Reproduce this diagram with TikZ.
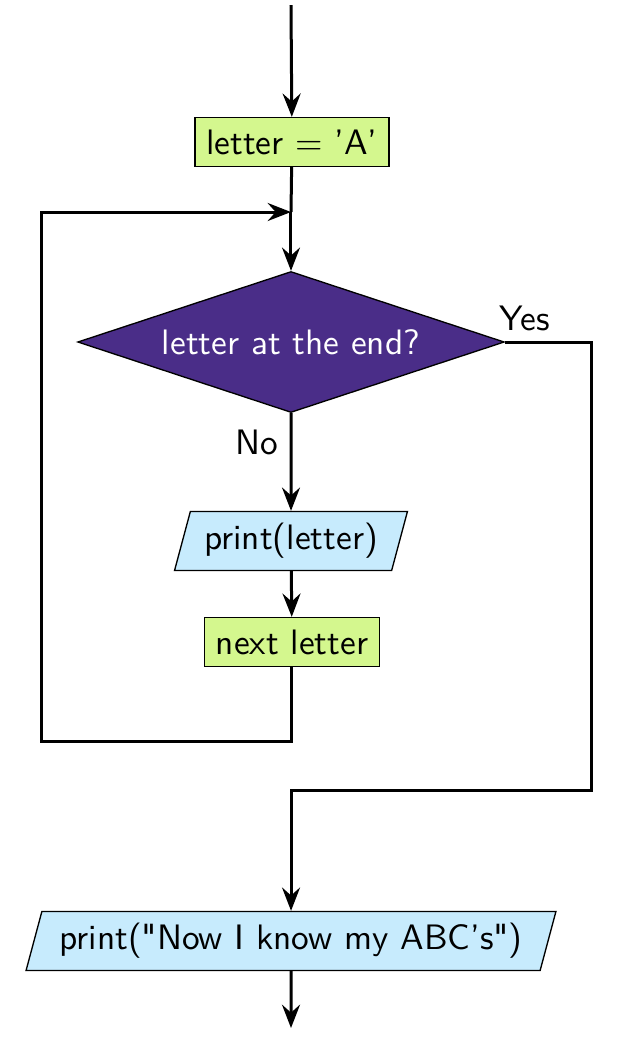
\documentclass[tikz,border=0pt]{standalone}
\usepackage{xcolor}
\usetikzlibrary{shapes.geometric, arrows.meta, positioning}
\definecolor{procgreen}{RGB}{212,247,142}
\definecolor{iocyan}{RGB}{199,235,253}
\definecolor{testpurple}{RGB}{74,45,136}
\begin{document}
\begin{tikzpicture}[
        x=0.3pt, y=-0.3pt,
        font=\sffamily\fontsize{10.6}{13}\selectfont,
        procbox/.style={rectangle, draw, thin, fill=procgreen, minimum height=14.7pt, inner xsep=3.4pt},
        iobox/.style={trapezium, trapezium left angle=75, trapezium right angle=105, draw, thin, fill=iocyan, minimum height=17.7pt, inner xsep=3.4pt},
        testbox/.style={diamond, aspect=3.03, draw, thin, fill=testpurple, text=white, minimum width=128pt, minimum height=42.3pt, inner sep=0pt},
        arrow/.style={-{Stealth[length=7pt, width=5.4pt, inset=2.4pt]}},
        flow/.style={line width=0.9pt}
    ]
        \useasboundingbox (0,0) rectangle (633,1051);
        \coordinate (entry) at (291,5);
        \node[procbox] (init) at (292,142) {letter = 'A'};
        \coordinate (merge) at (291,212);
        \node[testbox] (test) at (291,342) {letter at the end?};
        \node[iobox] (show) at (291,541) {print(letter)};
        \node[procbox] (next) at (292,642) {next letter};
        \coordinate (loopbot) at (42,741);
        \coordinate (yesturn) at (592,790);
        \node[iobox] (done) at (291,941) {print(\textquotedbl Now I know my ABC's\textquotedbl)};
        \coordinate (exit) at (291,1028);
        \draw[flow, arrow] (entry) -- (init);
        \draw[flow] (init) -- (merge);
        \draw[flow, arrow] (merge) -- (test);
        \draw[flow, arrow] (test) -- node[left, pos=0.3] {No} (show);
        \draw[flow, arrow] (show) -- (next);
        \draw[flow, arrow] (next.south) |- (loopbot) |- (merge);
        \draw[flow, arrow] (test.east) node[above right, xshift=-3pt, yshift=2pt, inner sep=1pt] {Yes} -| (yesturn) -| (done.north);
        \draw[flow, arrow] (done) -- (exit);
    \end{tikzpicture}
\end{document}
